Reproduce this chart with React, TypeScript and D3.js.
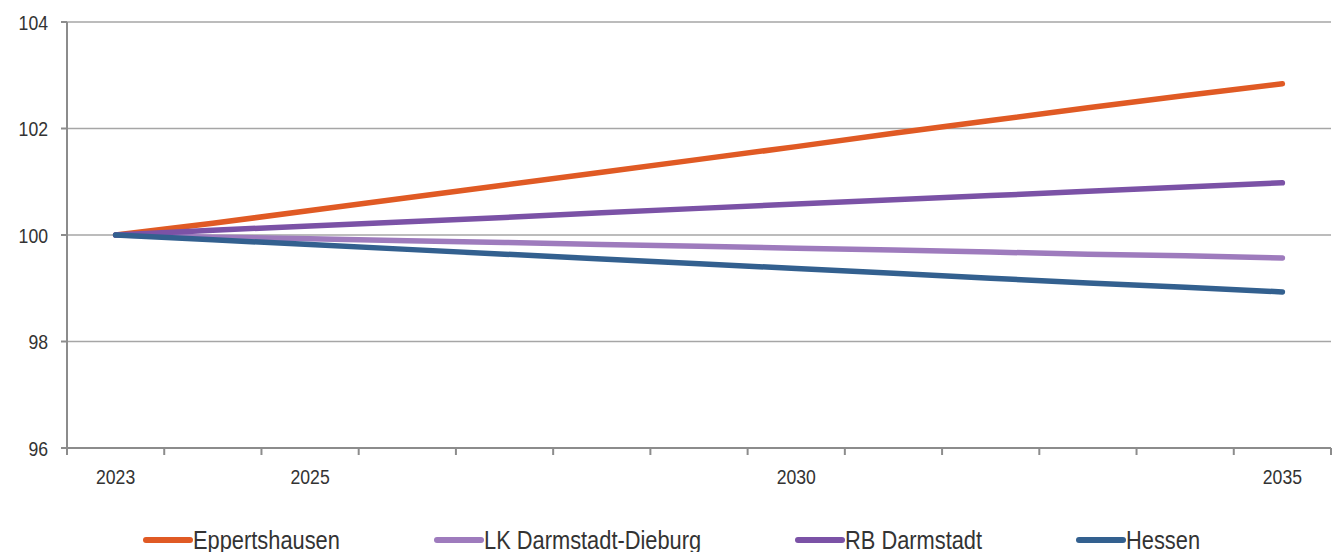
import React from "react";
import * as d3 from "d3";

const years = [2023, 2024, 2025, 2026, 2027, 2028, 2029, 2030, 2031, 2032, 2033, 2034, 2035];
const labeledYears = [2023, 2025, 2030, 2035];
const yTicks = [96, 98, 100, 102, 104];

const eppertshausen = [100, 100.22, 100.46, 100.7, 100.94, 101.18, 101.42, 101.66, 101.91, 102.15, 102.39, 102.62, 102.84];
const lkDarmstadtDieburg = [100, 99.96, 99.93, 99.89, 99.86, 99.82, 99.79, 99.75, 99.72, 99.68, 99.64, 99.61, 99.57];
const rbDarmstadt = [100, 100.09, 100.17, 100.25, 100.33, 100.42, 100.5, 100.58, 100.66, 100.74, 100.82, 100.9, 100.98];
const hessen = [100, 99.91, 99.82, 99.73, 99.64, 99.55, 99.46, 99.37, 99.28, 99.19, 99.1, 99.02, 98.93];

const seriesNames = ["Eppertshausen", "LK Darmstadt-Dieburg", "RB Darmstadt", "Hessen"];
const seriesValues = [eppertshausen, lkDarmstadtDieburg, rbDarmstadt, hessen];
const seriesColors = ["#E05A24", "#9E7BBD", "#7B52A6", "#33608F"];
const legendX = [146, 437, 798, 1079];

const W = 1344;
const H = 552;
const FONT = "'Liberation Sans', Arial, sans-serif";
const SX = 0.84;

function CText(props: { x: number; y: number; size: number; anchor?: string; children: React.ReactNode }) {
  return (
    <text
      transform={`translate(${props.x},${props.y}) scale(${SX},1)`}
      textAnchor={props.anchor || "start"}
      fontSize={props.size}
      fill="#333"
    >
      {props.children}
    </text>
  );
}

export default function App() {
  const x = d3.scaleBand<number>().domain(years).range([67, 1331]);
  const y = d3.scaleLinear().domain([96, 104]).range([448, 22]);
  const cx = (yr: number) => (x(yr) as number) + x.bandwidth() / 2;
  const line = d3
    .line<number>()
    .x((_, i) => cx(years[i]))
    .y((v) => y(v));

  const boundaries = years.map((yr) => x(yr) as number).concat([x.range()[1]]);

  return (
    <div style={{ position: "fixed", left: 0, top: 0 }}>
      <svg width={W} height={H} style={{ display: "block", fontFamily: FONT }}>
        <rect width={W} height={H} fill="#fff" />
        {yTicks.map((t) => (
          <g key={t}>
            {t !== 96 && (
              <line x1={67} x2={1331} y1={y(t)} y2={y(t)} stroke="#a6a6a6" strokeWidth={1.5} />
            )}
            <line x1={61} x2={67} y1={y(t)} y2={y(t)} stroke="#8c8c8c" strokeWidth={2} />
            <CText x={48} y={y(t) + 7.5} size={21} anchor="end">
              {t}
            </CText>
          </g>
        ))}
        <line x1={67} x2={67} y1={22} y2={448} stroke="#8c8c8c" strokeWidth={2} />
        <line x1={67} x2={1331} y1={448} y2={448} stroke="#8c8c8c" strokeWidth={2} />
        {boundaries.map((b, i) => (
          <line key={i} x1={b} x2={b} y1={448} y2={455} stroke="#8c8c8c" strokeWidth={2} />
        ))}
        {labeledYears.map((yr) => (
          <CText key={yr} x={cx(yr)} y={484} size={21} anchor="middle">
            {yr}
          </CText>
        ))}
        {seriesValues.map((vals, i) => (
          <path
            key={seriesNames[i]}
            d={line(vals) || ""}
            fill="none"
            stroke={seriesColors[i]}
            strokeWidth={5.5}
            strokeLinecap="round"
            strokeLinejoin="round"
          />
        ))}
        {seriesNames.map((n, i) => (
          <g key={n}>
            <line
              x1={legendX[i]}
              x2={legendX[i] + 44}
              y1={540}
              y2={540}
              stroke={seriesColors[i]}
              strokeWidth={6}
              strokeLinecap="round"
            />
            <CText x={legendX[i] + 47} y={549} size={26}>
              {n}
            </CText>
          </g>
        ))}
      </svg>
    </div>
  );
}
